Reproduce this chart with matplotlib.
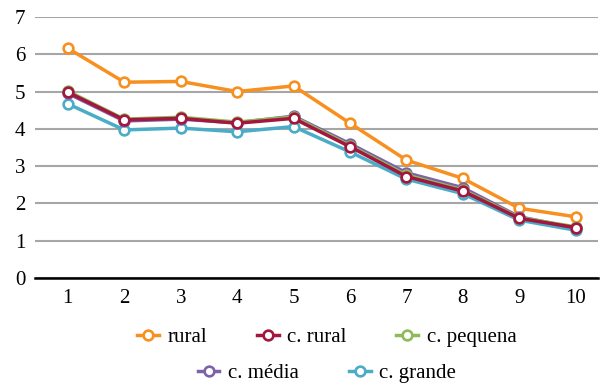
import matplotlib.pyplot as plt
import numpy as np

plt.rcParams['font.family'] = ['Liberation Serif', 'DejaVu Serif']

deciles = np.arange(1, 11)
rural = [6.16, 5.25, 5.27, 5.0, 5.15, 4.15, 3.16, 2.67, 1.87, 1.64]
c_rural = [4.98, 4.24, 4.28, 4.15, 4.28, 3.52, 2.72, 2.33, 1.60, 1.35]
c_pequena = [5.01, 4.26, 4.31, 4.18, 4.32, 3.55, 2.76, 2.36, 1.62, 1.37]
c_media = [4.95, 4.21, 4.26, 4.16, 4.34, 3.60, 2.82, 2.42, 1.64, 1.34]
c_grande = [4.67, 3.97, 4.02, 3.92, 4.06, 3.38, 2.65, 2.26, 1.55, 1.28]

colors = {'rural': '#F7901E', 'c. rural': '#A3173F', 'c. pequena': '#8EBB58',
          'c. média': '#7C63A8', 'c. grande': '#4AACC6'}

fig = plt.figure(figsize=(6.05, 3.85), dpi=100)
ax = fig.add_axes([0.058, 0.278, 0.93, 0.678])

style = dict(lw=2.5, marker='o', ms=7, mfc='white', mew=1.9)
lines = {}
# draw order: the crimson series sits on top of the green/purple ones
for name, vals in [('rural', rural), ('c. grande', c_grande), ('c. média', c_media),
                   ('c. pequena', c_pequena), ('c. rural', c_rural)]:
    lines[name], = ax.plot(deciles, vals, color=colors[name], mec=colors[name],
                           label=name, **style)

ax.set_xlim(0.42, 10.39)
ax.set_ylim(0, 7)
ax.set_xticks(deciles)
ax.set_yticks(range(0, 8))
ax.tick_params(length=0, labelsize=15, pad=8)
ax.tick_params(axis='y', pad=7)
ax.grid(axis='y', color='#A6A6A6', lw=1.5)
ax.set_axisbelow(True)
for s in ['top', 'right', 'left']:
    ax.spines[s].set_visible(False)
ax.spines['bottom'].set_linewidth(1.8)
ax.spines['bottom'].set_zorder(1)

leg_kw = dict(frameon=False, fontsize=15, handlelength=1.05, handletextpad=0.4,
              columnspacing=2.4, borderaxespad=0)
row1 = ['rural', 'c. rural', 'c. pequena']
row2 = ['c. média', 'c. grande']
fig.legend([lines[n] for n in row1], row1, ncol=3, loc='center',
           bbox_to_anchor=(0.54, 0.123), **leg_kw)
fig.legend([lines[n] for n in row2], row2, ncol=2, loc='center',
           bbox_to_anchor=(0.54, 0.031), **leg_kw)

fig.savefig('out.png', dpi=100)
